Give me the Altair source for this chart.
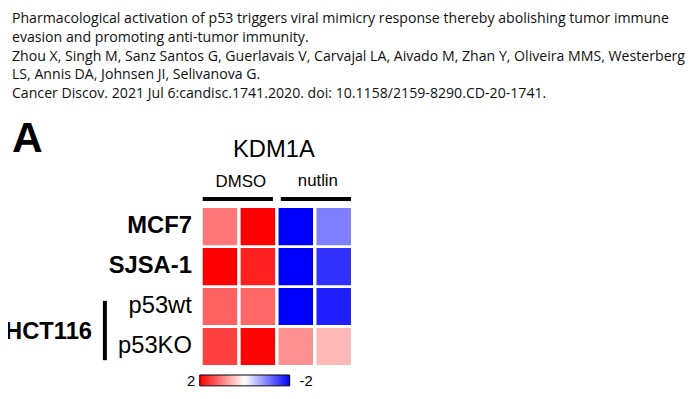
import altair as alt
import pandas as pd

# ---- data ----
rows = ["MCF7", "SJSA-1", "p53wt", "p53KO"]
cols = ["DMSO_1", "DMSO_2", "nutlin_1", "nutlin_2"]
values = [
    [1.07, 2.00, -2.00, -1.00],   # MCF7
    [2.00, 1.75, -2.00, -1.62],   # SJSA-1
    [1.25, 1.20, -2.00, -1.75],   # HCT116 p53wt
    [1.50, 1.97, 0.87, 0.56],     # HCT116 p53KO
]
bold_rows = ["MCF7", "SJSA-1"]
plain_rows = ["p53wt", "p53KO"]
citation = [
    "Pharmacological activation of p53 triggers viral mimicry response thereby abolishing tumor immune",
    "evasion and promoting anti-tumor immunity.",
    "Zhou X, Singh M, Sanz Santos G, Guerlavais V, Carvajal LA, Aivado M, Zhan Y, Oliveira MMS, Westerberg",
    "LS, Annis DA, Johnsen JI, Selivanova G.",
    "Cancer Discov. 2021 Jul 6:candisc.1741.2020.  doi: 10.1158/2159-8290.CD-20-1741.",
]
legend_max, legend_min = 2, -2

records = [
    {"row": r, "col": c, "value": values[i][j]}
    for i, r in enumerate(rows) for j, c in enumerate(cols)
]
df = pd.DataFrame(records)
one = pd.DataFrame({"a": [0]})

FONT = "Liberation Sans"

yscale = alt.Scale(domain=rows, range=[200, 359], paddingInner=0.07, paddingOuter=0)
xscale = alt.Scale(domain=cols, range=[197, 347], paddingInner=0.09, paddingOuter=0)

heat = alt.Chart(df).mark_rect().encode(
    x=alt.X("col:N", scale=xscale, axis=None),
    y=alt.Y("row:N", scale=yscale, axis=None),
    color=alt.Color(
        "value:Q",
        scale=alt.Scale(domain=[-2, 0, 2], range=["#0000ff", "#ffffff", "#ff0000"], interpolate="rgb"),
        legend=None,
    ),
)

lab_bold = alt.Chart(pd.DataFrame({"row": bold_rows})).mark_text(
    font=FONT, fontSize=24, fontWeight="bold", align="right", baseline="middle", color="#000"
).encode(
    x=alt.value(186),
    y=alt.Y("row:N", scale=yscale, axis=None, bandPosition=0.5),
    text="row:N",
)
lab_plain = alt.Chart(pd.DataFrame({"row": plain_rows})).mark_text(
    font=FONT, fontSize=24, align="right", baseline="middle", color="#000"
).encode(
    x=alt.value(186),
    y=alt.Y("row:N", scale=yscale, axis=None, bandPosition=0.5),
    text="row:N",
)

def txt(s, x, y, size, weight="normal", align="left", baseline="alphabetic", font=FONT, color="#000"):
    return alt.Chart(one).mark_text(
        font=font, fontSize=size, fontWeight=weight, align=align, baseline=baseline, color=color
    ).encode(x=alt.value(x), y=alt.value(y), text=alt.value(s))

cite = alt.Chart(one).mark_text(
    font="Open Sans", fontSize=14.3, align="left", baseline="alphabetic", color="#111",
    lineBreak="\n", lineHeight=19,
).encode(x=alt.value(4), y=alt.value(13), text=alt.value("\n".join(citation)))

layers = [
    cite,
    txt("A", 4, 143, 43, weight="bold"),
    txt("KDM1A", 269, 148, 24, align="center"),
    txt("DMSO", 235.5, 179, 17, align="center"),
    txt("nutlin", 313.5, 178, 17, align="center"),
    alt.Chart(one).mark_rect(color="#000").encode(
        x=alt.value(197), x2=alt.value(268), y=alt.value(189), y2=alt.value(193)),
    alt.Chart(one).mark_rect(color="#000").encode(
        x=alt.value(276), x2=alt.value(347), y=alt.value(189), y2=alt.value(193)),
    heat,
    lab_bold,
    lab_plain,
    txt("HCT116", 85, 333, 24, weight="bold", align="right"),
    alt.Chart(one).mark_rect(color="#000").encode(
        x=alt.value(96), x2=alt.value(100), y=alt.value(294), y2=alt.value(354)),
    alt.Chart(one).mark_rect(
        fill=alt.Gradient(
            gradient="linear", x1=0, x2=1, y1=0, y2=0,
            stops=[
                alt.GradientStop(color="#ff0000", offset=0),
                alt.GradientStop(color="#ffffff", offset=0.5),
                alt.GradientStop(color="#0000ff", offset=1),
            ],
        ),
        stroke="#000", strokeWidth=1,
    ).encode(x=alt.value(194), x2=alt.value(285), y=alt.value(369), y2=alt.value(380)),
    txt(str(legend_max), 189.5, 380, 15, align="right"),
    txt(str(legend_min), 295, 380, 15, align="left"),
]

chart = alt.layer(*layers).properties(
    width=690, height=391, autosize=alt.AutoSizeParams(type="none"), padding=0
).configure_view(stroke=None)

chart.save("out.html", embed_options={"renderer": "svg", "actions": False})
